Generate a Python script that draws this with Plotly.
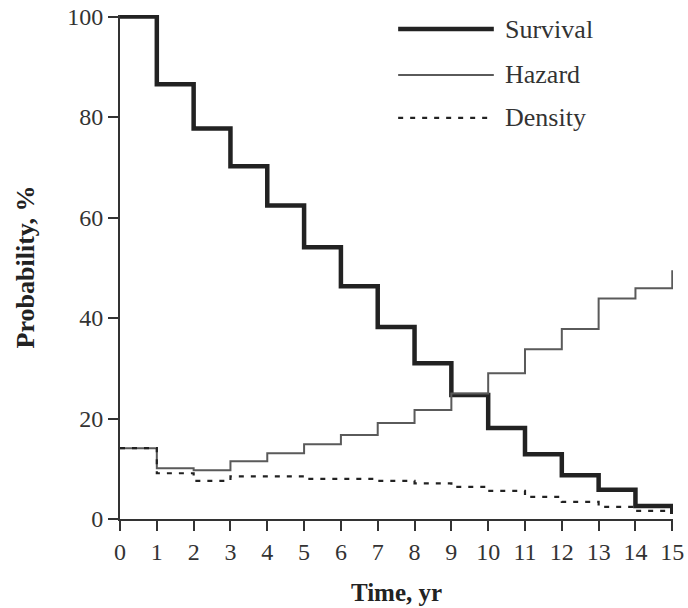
import plotly.graph_objects as go

years = list(range(0, 16))
survival = [100, 86.5, 77.7, 70.2, 62.4, 54.1, 46.3, 38.2, 31.0, 24.7, 18.1, 12.9, 8.7, 5.8, 2.6, 1.0]
hazard = [14.1, 10.1, 9.7, 11.5, 13.1, 14.9, 16.7, 19.1, 21.7, 25.0, 29.0, 33.8, 37.8, 43.9, 45.9, 49.5]
density = [14.1, 9.1, 7.6, 8.5, 8.5, 8.0, 8.0, 7.6, 7.1, 6.4, 5.6, 4.4, 3.4, 2.4, 1.6, 1.6]
x_ticks = list(range(0, 16))
y_ticks = [0, 20, 40, 60, 80, 100]
series_names = ["Survival", "Hazard", "Density"]

FONT = "Liberation Serif"
fig = go.Figure()
styles = [
    dict(color="#222222", width=4.5, dash="solid"),
    dict(color="#5a5a5a", width=2, dash="solid"),
    dict(color="#222222", width=2.2, dash="5px,7px"),
]
for name, ys, st in zip(series_names, [survival, hazard, density], styles):
    fig.add_trace(go.Scatter(x=years, y=ys, mode="lines", name=name,
                             line=dict(shape="hv", **st), showlegend=False))

# legend drawn as decoration
leg_y = [0.972, 0.881, 0.796]
for name, st, yy in zip(series_names, styles, leg_y):
    fig.add_shape(type="line", xref="paper", yref="paper", x0=0.503, x1=0.676, y0=yy, y1=yy,
                  line=dict(color=st["color"], width=st["width"], dash=st["dash"]))
    fig.add_annotation(xref="paper", yref="paper", x=0.692, y=yy, text=name, showarrow=False,
                       xanchor="left", yanchor="middle",
                       font=dict(family=FONT, size=26, color="#333333"))

fig.update_layout(
    width=688, height=608,
    margin=dict(l=120, r=15, t=15, b=89),
    paper_bgcolor="white", plot_bgcolor="white",
    font=dict(family=FONT, color="#333333"),
)
fig.update_xaxes(range=[0, 15.02], tickvals=x_ticks, ticktext=[str(t) for t in x_ticks],
                 ticks="outside", ticklen=10, tickwidth=2, tickcolor="#333333",
                 showline=True, linecolor="#333333", linewidth=2, showgrid=False, zeroline=False,
                 automargin=False,
                 tickfont=dict(size=24, family=FONT, color="#333333"),
                 title=dict(text="<b>Time, yr</b>", font=dict(size=25, family=FONT, color="#222222"), standoff=20))
fig.update_yaxes(range=[0, 100.3], tickvals=y_ticks,
                 ticks="outside", ticklen=10, tickwidth=2, tickcolor="#333333",
                 showline=True, linecolor="#333333", linewidth=2, showgrid=False, zeroline=False,
                 automargin=False,
                 tickfont=dict(size=24, family=FONT, color="#333333"),
                 title=dict(text="<b>Probability, %</b>", font=dict(size=26, family=FONT, color="#222222"), standoff=25))

fig.write_html("out.html", config={"displayModeBar": False},
               post_script="document.body.style.margin='0';document.body.style.overflow='hidden';")
